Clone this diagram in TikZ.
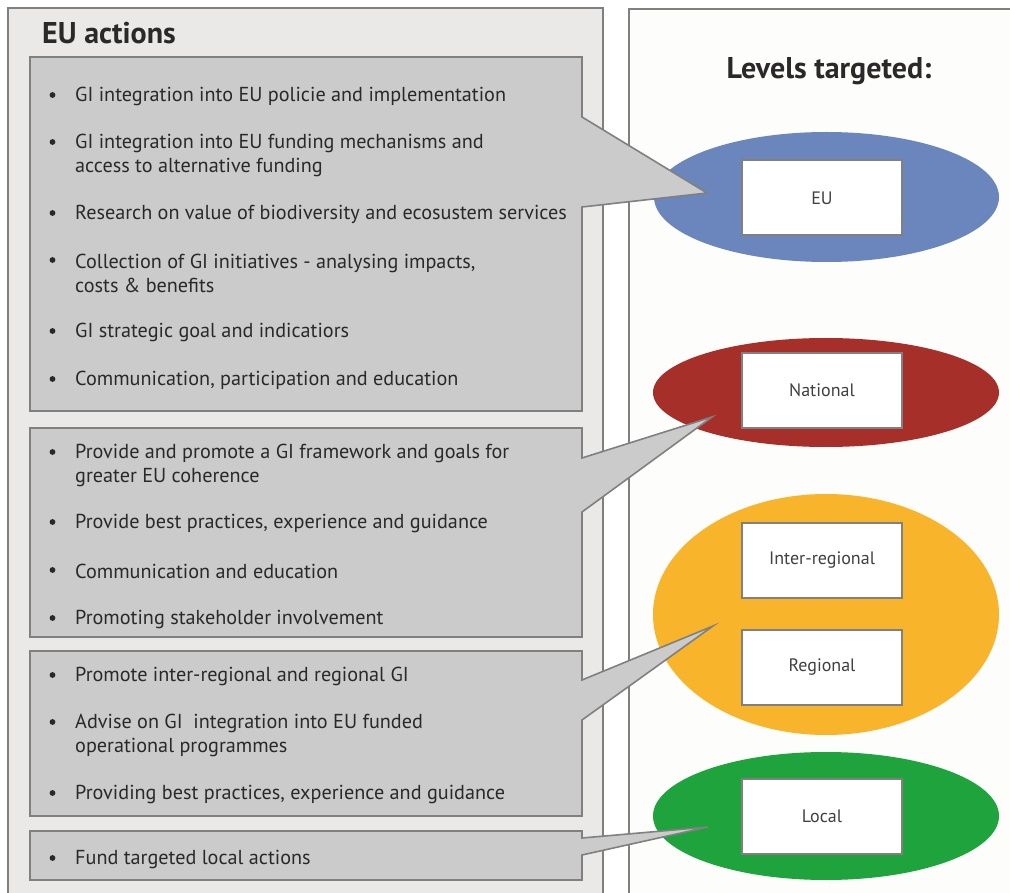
\documentclass[tikz,border=0pt]{standalone}
\usepackage{fontspec}
\setmainfont{PT Sans}
\usetikzlibrary{shapes.geometric}
\definecolor{panelL}{HTML}{EBE9E7}
\definecolor{panelR}{HTML}{FDFDFB}
\definecolor{edge}{HTML}{808080}
\definecolor{boxg}{HTML}{CBCBCB}
\definecolor{txt}{HTML}{2B2829}
\definecolor{lblue}{HTML}{6A86BD}
\definecolor{lred}{HTML}{A72F29}
\definecolor{lyellow}{HTML}{F8B52B}
\definecolor{lgreen}{HTML}{1FA33C}
\tikzset{
  panel/.style={draw=edge, line width=1.6pt},
  callout/.style={draw=edge, fill=boxg, line width=1.6pt, line join=miter},
  item/.style={anchor=west, inner sep=0pt, align=left, text=txt,
    font=\fontsize{20.2}{24}\selectfont},
  level/.style={ellipse, inner sep=0pt},
  lbox/.style={draw=edge, fill=white, line width=2pt, minimum width=160pt,
    minimum height=75pt, inner sep=0pt, text=black!75,
    font=\fontsize{18}{21}\selectfont},
  head/.style={anchor=west, inner sep=0pt, text=txt,
    font=\fontsize{30}{33}\bfseries\selectfont},
}
\begin{document}
\begin{tikzpicture}[x=1pt, y=-1pt]
\useasboundingbox (0,0) rectangle (1010,893);
\clip (0,0) rectangle (1010,893);
\fill[white] (0,0) rectangle (1010,893);
% panels
\draw[panel, fill=panelL] (8,8) rectangle (603,920);
\draw[panel, fill=panelR] (629,9) rectangle (1040,920);
\node[head] (title) at (42,33) {EU actions};
\node[head, anchor=center] (levels) at (829,71) {Levels targeted:};
% level ellipses
\node[level, fill=lblue, minimum width=345pt, minimum height=130pt] (eEU) at (826.5,197) {};
\node[level, fill=lred, minimum width=346pt, minimum height=109pt] (eNat) at (826,392.5) {};
\node[level, fill=lyellow, minimum width=346pt, minimum height=241pt] (eReg) at (826,614.5) {};
\node[level, fill=lgreen, minimum width=346pt, minimum height=128pt] (eLoc) at (826,816) {};
\node[lbox] (bEU) at (822,198) {EU};
\node[lbox] (bNat) at (822,390.5) {National};
\node[lbox] (bInter) at (822,560.5) {Inter-regional};
\node[lbox] (bReg) at (822,667) {Regional};
\node[lbox] (bLoc) at (822,816.5) {Local};
% callout boxes
\coordinate (t1) at (707,193);
\coordinate (t2) at (712,417);
\coordinate (t3) at (713,626);
\coordinate (t4) at (708,827);
\draw[callout] (30,57) -- (582,57) -- (582,117) -- (t1) -- (582,207) -- (582,411) -- (30,411) -- cycle;
\draw[callout] (30,428) -- (582,428) -- (582,458) -- (t2) -- (582,512) -- (582,637) -- (30,637) -- cycle;
\draw[callout] (30,651) -- (582,651) -- (582,680) -- (t3) -- (582,720) -- (582,816) -- (30,816) -- cycle;
\draw[callout] (30,831) -- (582,831) -- (582,838) -- (t4) -- (582,855) -- (582,880) -- (30,880) -- cycle;
% bullets
\foreach \y in {95,142,213,260,331,379,452,522,570,618,675,722,793,858}
  \fill[txt] (52.5,\y) circle (2.9pt);
% items
\node[item] (a1) at (75,96.5) {GI integration into EU policie and implementation};
\node[item] (a2) at (75,155.5) {GI integration into EU funding mechanisms and\\access to alternative funding};
\node[item] (a3) at (75,214.5) {Research on value of biodiversity and ecosustem services};
\node[item] (a4) at (75,273.5) {Collection of GI initiatives - analysing impacts,\\costs \& benefits};
\node[item] (a5) at (75,332.5) {GI strategic goal and indicatiors};
\node[item] (a6) at (75,380.5) {Communication, participation and education};
\node[item] (b1) at (75,465) {Provide and promote a GI framework and goals for\\greater EU coherence};
\node[item] (b2) at (75,523.5) {Provide best practices, experience and guidance};
\node[item] (b3) at (75,571.5) {Communication and education};
\node[item] (b4) at (75,619.5) {Promoting stakeholder involvement};
\node[item] (c1) at (75,676.5) {Promote inter-regional and regional GI};
\node[item] (c2) at (75,735.5) {Advise on GI\ \ integration into EU funded\\operational programmes};
\node[item] (c3) at (75,794.5) {Providing best practices, experience and guidance};
\node[item] (d1) at (75,859.5) {Fund targeted local actions};
\end{tikzpicture}
\end{document}
